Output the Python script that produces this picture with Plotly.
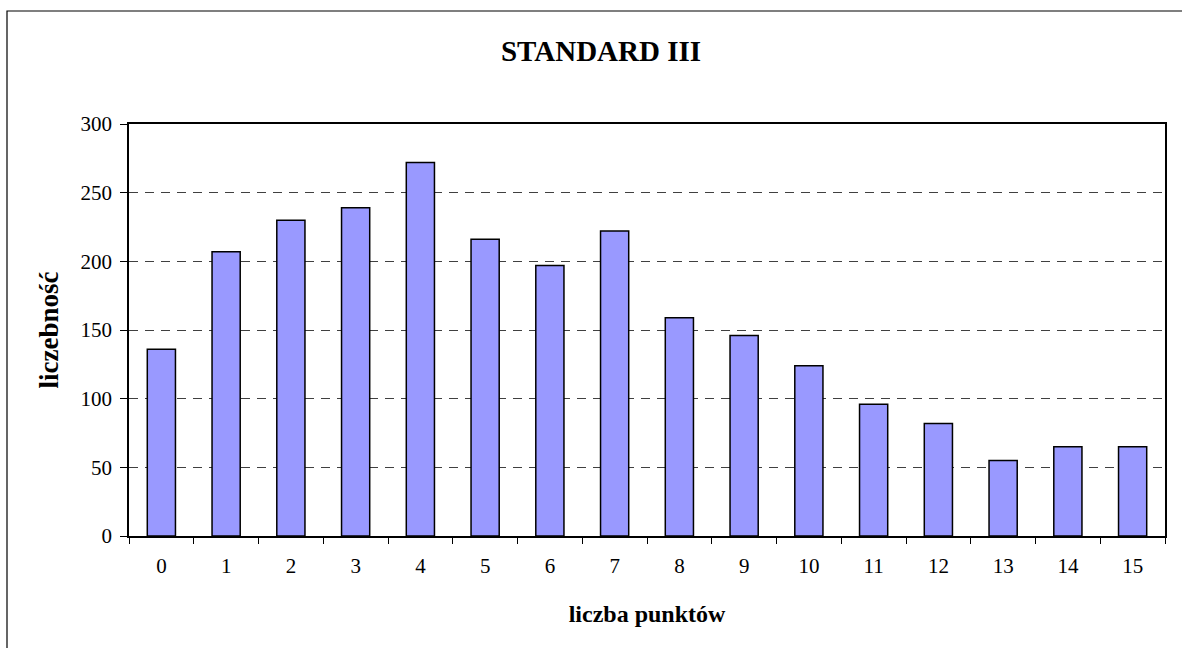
import plotly.graph_objects as go

categories = [str(i) for i in range(16)]
counts = [136, 207, 230, 239, 272, 216, 197, 222, 159, 146, 124, 96, 82, 55, 65, 65]
y_ticks = [0, 50, 100, 150, 200, 250, 300]

title_text = "STANDARD III"
x_title = "liczba punktów"
y_title = "liczebność"

FONT = "Liberation Serif, Times New Roman, serif"

fig = go.Figure(
    go.Bar(
        x=categories,
        y=counts,
        marker=dict(color="#9999FF", line=dict(color="black", width=1.5)),
        showlegend=False,
        hoverinfo="x+y",
    )
)

W, H = 1182, 648
ml, mr, mt, mb = 129, 17, 124, 112
pw, ph = W - ml - mr, H - mt - mb

fig.update_layout(
    width=W,
    height=H,
    margin=dict(l=ml, r=mr, t=mt, b=mb, pad=0),
    paper_bgcolor="white",
    plot_bgcolor="white",
    bargap=0.565,
    font=dict(family=FONT, color="black", size=21),
    title=dict(
        text="<b>" + title_text + "</b>",
        font=dict(family=FONT, size=29, color="black"),
        x=0.5 + (601 - W / 2) / W,
        xanchor="center",
        xref="container",
        y=1 - 51 / H,
        yref="container",
        yanchor="middle",
    ),
    xaxis=dict(
        type="category",
        tickson="boundaries",
        ticks="outside",
        ticklen=6,
        tickwidth=1,
        tickcolor="black",
        showline=True,
        linecolor="black",
        linewidth=1.5,
        mirror=True,
        showgrid=False,
        tickfont=dict(family=FONT, size=21, color="black"),
        ticklabelstandoff=10,
        title=dict(
            text="<b>" + x_title + "</b>",
            font=dict(family=FONT, size=24, color="black"),
            standoff=28,
        ),
    ),
    yaxis=dict(
        range=[0, 300],
        tickvals=y_ticks,
        ticks="outside",
        ticklen=7,
        tickwidth=1,
        tickcolor="black",
        showline=True,
        linecolor="black",
        linewidth=1.5,
        mirror=True,
        showgrid=True,
        gridcolor="#404040",
        gridwidth=1,
        griddash="9px,7px",
        zeroline=False,
        tickfont=dict(family=FONT, size=21, color="black"),
        ticklabelstandoff=4,
        title=dict(
            text="<b>" + y_title + "</b>",
            font=dict(family=FONT, size=27, color="black"),
            standoff=14,
        ),
    ),
    shapes=[
        dict(
            type="rect",
            xref="paper",
            yref="paper",
            x0=(7 - ml) / pw,
            x1=1.2,
            y0=-0.5,
            y1=(H - mb - 11) / ph,
            line=dict(color="black", width=1.2),
            fillcolor="rgba(0,0,0,0)",
            layer="below",
        )
    ],
)

fig.write_html(
    "out.html",
    config={"displayModeBar": False},
    post_script="document.body.style.margin='0';document.body.style.padding='0';",
)
